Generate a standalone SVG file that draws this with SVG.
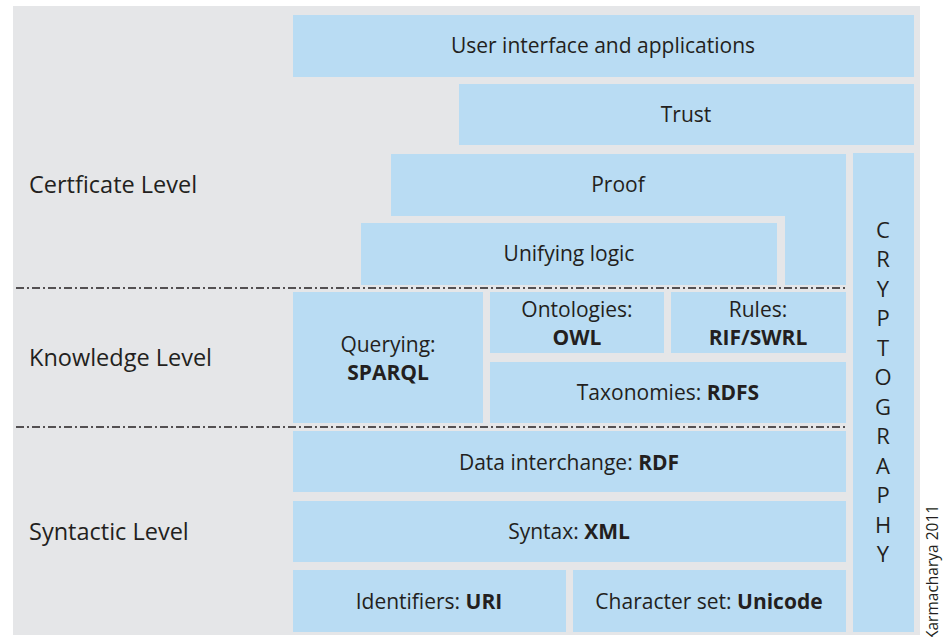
<svg xmlns="http://www.w3.org/2000/svg" width="944" height="637" viewBox="0 0 944 637">
<style>
.box{fill:#b9dcf3}
.t{font-family:"Open Sans","Noto Sans","Liberation Sans",sans-serif;font-size:21px;fill:#231f20;text-anchor:middle}
.c{font-size:22px}
.lvl{font-family:"Open Sans","Noto Sans","Liberation Sans",sans-serif;font-size:23.5px;fill:#231f20}
.b{font-weight:bold}
.sep{stroke:#231f20;stroke-width:1.3;stroke-dasharray:8 3 2 3;fill:none}
</style>
<rect x="0" y="0" width="944" height="637" fill="#ffffff"/>
<rect x="13" y="6" width="907" height="629" fill="#e5e6e8"/>
<g id="levels">
<text class="lvl" x="29" y="192.5">Certficate Level</text>
<text class="lvl" x="29" y="365.5">Knowledge Level</text>
<text class="lvl" x="29" y="539.5">Syntactic Level</text>
</g>
<g id="ui"><rect class="box" x="293" y="15" width="621" height="62"/><text class="t" x="603" y="52.5">User interface and applications</text></g>
<g id="trust"><rect class="box" x="459" y="84" width="455" height="61"/><text class="t" x="686" y="121.5">Trust</text></g>
<g id="proof"><polygon class="box" points="391,154 846,154 846,285 785,285 785,216 391,216"/><text class="t" x="618" y="191.5">Proof</text></g>
<g id="logic"><rect class="box" x="361" y="223" width="416" height="62"/><text class="t" x="569" y="260.5">Unifying logic</text></g>
<g id="querying"><rect class="box" x="293" y="292" width="190" height="131"/><text class="t" x="388" y="351.5">Querying:</text><text class="t b" x="388" y="379.5">SPARQL</text></g>
<g id="ontologies"><rect class="box" x="490" y="292" width="174" height="61"/><text class="t" x="577" y="316.5">Ontologies:</text><text class="t b" x="577" y="344.5">OWL</text></g>
<g id="rules"><rect class="box" x="671" y="292" width="175" height="61"/><text class="t" x="758" y="316.5">Rules:</text><text class="t b" x="758" y="344.5">RIF/SWRL</text></g>
<g id="taxonomies"><rect class="box" x="490" y="362" width="356" height="61"/><text class="t" x="668" y="399.5">Taxonomies: <tspan class="b">RDFS</tspan></text></g>
<g id="rdf"><rect class="box" x="293" y="431" width="553" height="61"/><text class="t" x="569" y="469.5">Data interchange: <tspan class="b">RDF</tspan></text></g>
<g id="xml"><rect class="box" x="293" y="501" width="553" height="61"/><text class="t" x="569" y="538.5">Syntax: <tspan class="b">XML</tspan></text></g>
<g id="uri"><rect class="box" x="293" y="570" width="273" height="62"/><text class="t" x="429" y="608.5">Identifiers: <tspan class="b">URI</tspan></text></g>
<g id="unicode"><rect class="box" x="573" y="570" width="273" height="62"/><text class="t" x="709" y="608.5">Character set: <tspan class="b">Unicode</tspan></text></g>
<g id="crypto"><rect class="box" x="853" y="153" width="61" height="479"/>
<text class="t c" x="883">
<tspan x="883" y="237.5">C</tspan><tspan x="883" y="267">R</tspan><tspan x="883" y="296.5">Y</tspan><tspan x="883" y="326">P</tspan><tspan x="883" y="355.5">T</tspan><tspan x="883" y="385">O</tspan><tspan x="883" y="414.5">G</tspan><tspan x="883" y="444">R</tspan><tspan x="883" y="473.5">A</tspan><tspan x="883" y="503">P</tspan><tspan x="883" y="532.5">H</tspan><tspan x="883" y="562">Y</tspan>
</text></g>
<g id="separators">
<line class="sep" x1="16" y1="288" x2="846" y2="288"/>
<line class="sep" x1="16" y1="427" x2="846" y2="427"/>
</g>
<text x="938" y="640" transform="rotate(-90 938 640)" style="font-family:'Open Sans','Noto Sans',sans-serif;font-size:15.5px;fill:#231f20">Karmacharya 2011</text>
</svg>
